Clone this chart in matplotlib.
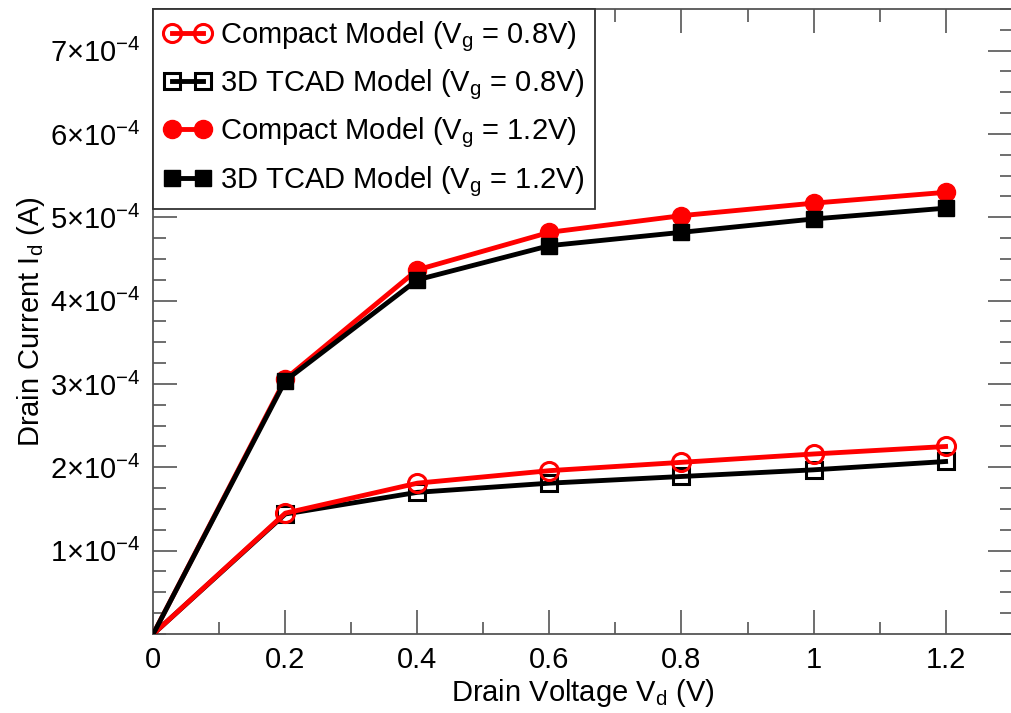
import matplotlib
matplotlib.use("Agg")
import matplotlib.pyplot as plt
from matplotlib.ticker import MultipleLocator, FixedLocator, FixedFormatter

plt.rcParams['font.family'] = ['Liberation Sans', 'DejaVu Sans']
plt.rcParams['mathtext.fontset'] = 'custom'
plt.rcParams['mathtext.rm'] = 'Liberation Sans'
plt.rcParams['mathtext.it'] = 'Liberation Sans'
plt.rcParams['mathtext.bf'] = 'Liberation Sans:bold'

# drain voltage (V)
vd = [0, 0.2, 0.4, 0.6, 0.8, 1.0, 1.2]

# drain current (A)
compact_08 = [0, 1.45e-4, 1.81e-4, 1.96e-4, 2.06e-4, 2.16e-4, 2.25e-4]
tcad_08 = [0, 1.44e-4, 1.70e-4, 1.81e-4, 1.89e-4, 1.97e-4, 2.07e-4]
compact_12 = [0, 3.06e-4, 4.37e-4, 4.82e-4, 5.02e-4, 5.17e-4, 5.30e-4]
tcad_12 = [0, 3.04e-4, 4.25e-4, 4.66e-4, 4.82e-4, 4.98e-4, 5.11e-4]

xticks = [0, 0.2, 0.4, 0.6, 0.8, 1.0, 1.2]
xlabels = ['0', '0.2', '0.4', '0.6', '0.8', '1', '1.2']
yticks = [1e-4, 2e-4, 3e-4, 4e-4, 5e-4, 6e-4, 7e-4]
ylabels = [r'$%d{\times}10^{-4}$' % k for k in range(1, 8)]

fig = plt.figure(figsize=(10.11, 7.13), dpi=100)
ax = fig.add_axes([0.1516, 0.1108, 0.8490, 0.8766])

# no symbol drawn at the origin
mk = slice(1, None)
ax.plot(vd, compact_08, '-o', color='red', lw=3.5, ms=13, mfc='none', mec='red', mew=2.2,
        markevery=mk, label=r'Compact Model (V$_g$ = 0.8V)', zorder=4)
ax.plot(vd, tcad_08, '-s', color='black', lw=3.5, ms=11, mfc='none', mec='black', mew=2.2,
        markevery=mk, label=r'3D TCAD Model (V$_g$ = 0.8V)', zorder=3)
ax.plot(vd, compact_12, '-o', color='red', lw=3.5, ms=13, mfc='red', mec='red',
        markevery=mk, label=r'Compact Model (V$_g$ = 1.2V)', zorder=4)
ax.plot(vd, tcad_12, '-s', color='black', lw=3.5, ms=11, mfc='black', mec='black',
        markevery=mk, label=r'3D TCAD Model (V$_g$ = 1.2V)', zorder=5)

ax.set_xlim(0, 1.3)
ax.set_ylim(0, 7.5e-4)

ax.xaxis.set_major_locator(FixedLocator(xticks))
ax.xaxis.set_major_formatter(FixedFormatter(xlabels))
ax.xaxis.set_minor_locator(MultipleLocator(0.1))
ax.yaxis.set_major_locator(FixedLocator(yticks))
ax.yaxis.set_major_formatter(FixedFormatter(ylabels))
ax.yaxis.set_minor_locator(MultipleLocator(0.25e-4))

ax.tick_params(which='both', direction='in', top=True, right=True, color='#555555',
               labelsize=21, width=1.2)
ax.tick_params(which='major', length=17, pad=9)
ax.tick_params(which='minor', length=9)
for s in ax.spines.values():
    s.set_color('#555555')
    s.set_linewidth(1.3)

ax.set_xlabel(r'Drain Voltage V$_d$ (V)', fontsize=21, labelpad=2)
ax.set_ylabel(r'Drain Current I$_d$ (A)', fontsize=21, labelpad=2)

leg = ax.legend(loc='upper left', bbox_to_anchor=(0, 1), borderaxespad=0, fontsize=21,
                numpoints=2, handlelength=1.65, handletextpad=0.3, labelspacing=0.47,
                borderpad=0.35, fancybox=False, framealpha=1, edgecolor='#333333')
leg.get_frame().set_linewidth(1.3)

fig.savefig('out.png', dpi=100)
